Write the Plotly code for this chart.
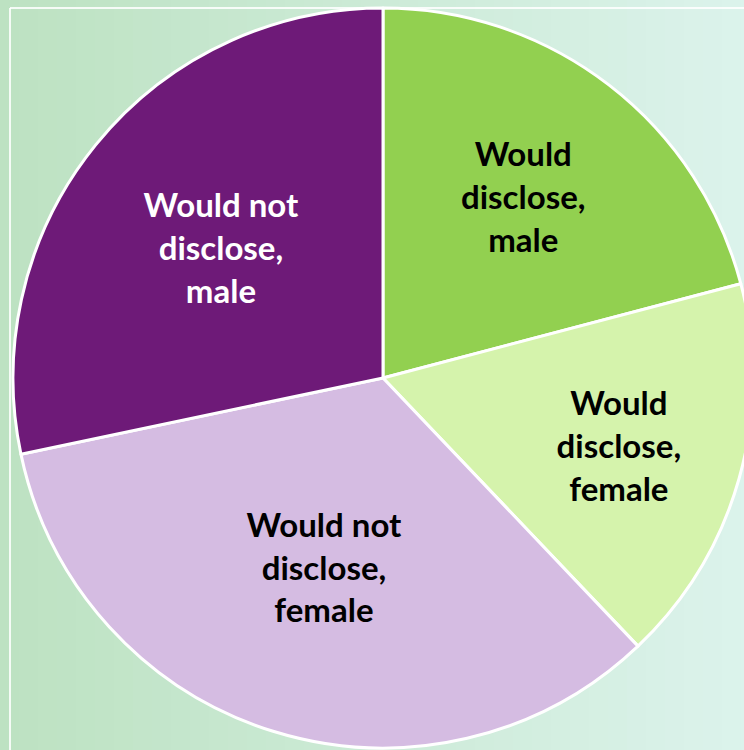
import plotly.graph_objects as go

# Data
categories = ["Would<br>disclose,<br>male",
              "Would<br>disclose,<br>female",
              "Would not<br>disclose,<br>female",
              "Would not<br>disclose,<br>male"]
values = [20.9, 17.0, 33.8, 28.3]
slice_colors = ["#92D050", "#D5F3AC", "#D5BCE2", "#6E1A78"]
text_colors = ["#000000", "#000000", "#000000", "#FFFFFF"]

W, H = 760, 750

fig = go.Figure()
fig.add_trace(go.Pie(
    labels=categories,
    values=values,
    sort=False,
    direction="clockwise",
    rotation=0,
    marker=dict(colors=slice_colors, line=dict(color="#FFFFFF", width=3)),
    texttemplate="<b>%{label}</b>",
    textposition="inside",
    insidetextorientation="horizontal",
    insidetextfont=dict(family="Lato, Open Sans, sans-serif", size=33, color=text_colors),
    hoverinfo="label+percent",
    showlegend=False,
    domain=dict(x=[13 / W, 753 / W], y=[2 / H, 742 / H]),
))

# Background gradient (decorative)
shapes = []
n = 40
c0 = (0xBD, 0xE2, 0xC2)
c1 = (0xDC, 0xF3, 0xEC)
for i in range(n):
    t = i / (n - 1)
    c = tuple(int(round(c0[k] + (c1[k] - c0[k]) * t)) for k in range(3))
    shapes.append(dict(type="rect", xref="paper", yref="paper",
                       x0=i / n, x1=(i + 1) / n + 0.002, y0=0, y1=1,
                       fillcolor="rgb(%d,%d,%d)" % c, line=dict(width=0),
                       layer="below"))
# Frame lines
shapes.append(dict(type="line", xref="paper", yref="paper",
                   x0=10 / W, x1=1.05, y0=1 - 8 / H, y1=1 - 8 / H,
                   line=dict(color="rgba(255,255,255,0.85)", width=2), layer="below"))
shapes.append(dict(type="line", xref="paper", yref="paper",
                   x0=10 / W, x1=10 / W, y0=-0.05, y1=1 - 8 / H,
                   line=dict(color="rgba(255,255,255,0.85)", width=2), layer="below"))

fig.update_layout(
    width=W, height=H,
    margin=dict(l=0, r=0, t=0, b=0),
    paper_bgcolor="#C9EAD6",
    plot_bgcolor="rgba(0,0,0,0)",
    shapes=shapes,
)

fig.write_html("out.html",
               config={"displayModeBar": False},
               post_script="document.body.style.margin='0';document.body.style.overflow='hidden';")
